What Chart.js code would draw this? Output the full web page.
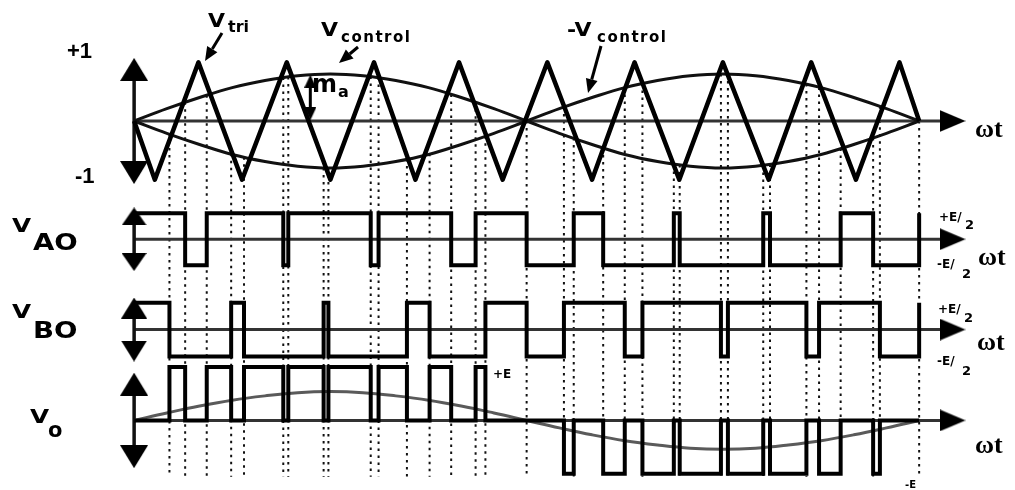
<!DOCTYPE html>
<html>
<head>
<meta charset="utf-8">
<title>Bipolar sinusoidal PWM</title>
<script src="https://cdn.jsdelivr.net/npm/chart.js@4.4.1/dist/chart.umd.min.js"></script>
<style>
  html, body { margin: 0; padding: 0; background: #fff; }
  #wrap { width: 1015px; height: 490px; }
</style>
</head>
<body>
<div id="wrap"><canvas id="pwm" width="1015" height="490"></canvas></div>
<script>
// All angles are in degrees of wt, one period of the control wave = 0..360

// control waves (top panel, per unit of the triangle peak)
const sineAngles = [0, 15, 30, 45, 60, 75, 90, 105, 120, 135, 150, 165, 180,
  195, 210, 225, 240, 255, 270, 285, 300, 315, 330, 345, 360];
const controlWave = [0, 0.21, 0.40, 0.57, 0.69, 0.77, 0.80, 0.77, 0.69, 0.57, 0.40, 0.21, 0,
  -0.21, -0.40, -0.57, -0.69, -0.77, -0.80, -0.77, -0.69, -0.57, -0.40, -0.21, 0];
const negControlWave = [0, -0.21, -0.40, -0.57, -0.69, -0.77, -0.80, -0.77, -0.69, -0.57, -0.40, -0.21, 0,
  0.21, 0.40, 0.57, 0.69, 0.77, 0.80, 0.77, 0.69, 0.57, 0.40, 0.21, 0];
// fundamental drawn inside the V_o panel (per unit of E)
const outputFundamental = [0, 0.14, 0.27, 0.38, 0.46, 0.52, 0.54, 0.52, 0.46, 0.38, 0.27, 0.14, 0,
  -0.14, -0.27, -0.38, -0.46, -0.52, -0.54, -0.52, -0.46, -0.38, -0.27, -0.14, 0];

// triangle carrier vertices
const triAngles = [0, 9.5, 29.5, 49.5, 70, 90, 110, 129, 149, 169, 189.5, 210, 229.5, 250, 270, 291, 310.5, 331, 351, 360];
const triValues = [0, -1, 1, -1, 1, -1, 1, -1, 1, -1, 1, -1, 1, -1, 1, -1, 1, -1, 1, 0];

// leg A: switching angle and level after it (+1 = +E/2, -1 = -E/2)
const vaoSwitch = [0, 23.4, 33.3, 68.4, 70.7, 108.5, 112.1, 145.4, 156.6, 180,
  201.6, 215.1, 247.5, 250.2, 288.5, 291.6, 324, 338.9, 360];
const vaoLevel = [1, -1, 1, -1, 1, -1, 1, -1, 1, -1, 1, -1, 1, -1, 1, -1, 1, -1, 1];

// leg B
const vboSwitch = [0, 16.2, 44.5, 50.4, 86.9, 89.1, 125.1, 135.5, 161.1, 180,
  197.1, 225, 233.1, 269.1, 272.3, 308.3, 314.1, 342, 360];
const vboLevel = [1, -1, 1, -1, 1, -1, 1, -1, 1, -1, 1, -1, 1, -1, 1, -1, 1, -1, 1];

// output V_o (+1 = +E, -1 = -E)
const voSwitch = [0, 16.2, 23.4, 33.3, 44.5, 50.4, 68.4, 70.7, 86.9, 89.1, 108.5, 112.1, 125.1,
  135.5, 145.4, 156.6, 161.1, 197.1, 201.6, 215.1, 225, 233.1, 247.5, 250.2, 269.1, 272.3,
  288.5, 291.6, 308.3, 314.1, 324, 338.9, 342, 360];
const voLevel = [0, 1, 0, 1, 0, 1, 0, 1, 0, 1, 0, 1, 0, 1, 0, 1, 0,
  -1, 0, -1, 0, -1, 0, -1, 0, -1, 0, -1, 0, -1, 0, -1, 0, 0];

// dotted projection lines: angle and where they leave the top panel
const dotAngles = [16.2, 23.4, 33.3, 44.5, 50.4, 68.4, 70.7, 86.9, 89.1, 108.5, 112.1, 125.1,
  135.5, 145.4, 156.6, 161.1, 180, 197.1, 201.6, 215.1, 225, 233.1, 247.5, 250.2, 269.1, 272.3,
  288.5, 291.6, 308.3, 314.1, 324, 338.9, 342, 360];
const dotTops = [-0.22, 0.32, 0.44, -0.56, -0.62, 0.74, 0.75, -0.80, -0.80, 0.76, 0.74, -0.65,
  -0.56, 0.45, 0.32, -0.26, 0, 0.24, -0.29, -0.46, 0.57, 0.64, -0.74, -0.75, 0.80, 0.80,
  -0.76, -0.74, 0.63, 0.57, -0.47, -0.29, 0.25, 0];

// modulation index marker
const maAngle = 80.8;
const maSpan = [0.12, 0.68];

// ---- layout ----
const W = 1015, H = 490;
const X0 = 127, X360 = 927;
const degPx = (X360 - X0) / 360;
const AXIS_END = 375.3;

// y scale for a panel: +1 at pxTop, -1 at pxBot
function band(pxTop, pxBot) {
  const per = (pxBot - pxTop) / 2;
  const max = 1 + pxTop / per;
  return { type: 'linear', display: false, min: max - H / per, max: max };
}
const scTri = band(55, 177);
const scAO = band(212, 266);
const scBO = band(305, 361);
const scO = band(372, 483);
const DOT_END = scTri.max - 486 * (scTri.max - scTri.min) / H;

function pts(xs, ys) {
  return xs.map((x, i) => ({ x: x, y: ys[i] }));
}

function makeHead(w, h) {
  const c = document.createElement('canvas');
  c.width = w; c.height = h;
  const g = c.getContext('2d');
  g.fillStyle = '#000';
  g.beginPath();
  g.moveTo(w / 2, 0);
  g.lineTo(w, h);
  g.lineTo(0, h);
  g.closePath();
  g.fill();
  return c;
}
const headH = makeHead(22, 26);
const headTop = makeHead(28, 23);
const headAO = makeHead(25, 18);
const headBO = makeHead(26, 21);
const headO = makeHead(28, 23);
const headMa = makeHead(12, 13);

const dotPts = [];
dotAngles.forEach((a, i) => {
  dotPts.push({ x: a, y: dotTops[i] }, { x: a, y: DOT_END }, { x: a, y: null });
});

function axisLine(yID) {
  return {
    data: [{ x: 0, y: 0 }, { x: AXIS_END, y: 0 }],
    yAxisID: yID,
    borderColor: '#333',
    borderWidth: 3,
    pointRadius: [0, 6],
    pointStyle: headH,
    pointRotation: 90,
    order: 5
  };
}
function vArrow(yID, a, img) {
  return {
    data: [{ x: 0, y: -a }, { x: 0, y: a }],
    yAxisID: yID,
    borderColor: '#111',
    borderWidth: 3.5,
    pointRadius: 6,
    pointStyle: img,
    pointRotation: [180, 0],
    order: 4
  };
}
function square(xs, ys, yID) {
  return {
    data: pts(xs, ys),
    yAxisID: yID,
    stepped: true,
    borderColor: '#000',
    borderWidth: 4,
    borderJoinStyle: 'miter',
    pointRadius: 0,
    order: 1
  };
}

// ---- text and pointer arrows ----
const SANS = '"DejaVu Sans", sans-serif';
const labels = [
  { t: '+1', x: 67, y: 58, f: 'bold 22px "Liberation Sans"' },
  { t: '-1', x: 75, y: 183, f: 'bold 22px "Liberation Sans"' },
  { t: 'V', x: 208, y: 27, f: 'bold 20px ' + SANS, sx: 1.1 },
  { t: 'tri', x: 228, y: 32, f: 'bold 16px ' + SANS },
  { t: 'V', x: 321, y: 36, f: 'bold 20px ' + SANS, sx: 1.1 },
  { t: 'control', x: 341, y: 42, f: 'bold 15px ' + SANS, ls: 1.5 },
  { t: '-V', x: 567, y: 36, f: 'bold 20px ' + SANS, sx: 1.1 },
  { t: 'control', x: 597, y: 42, f: 'bold 15px ' + SANS, ls: 1.5 },
  { t: 'm', x: 312, y: 92, f: 'bold 24px ' + SANS },
  { t: 'a', x: 338, y: 97, f: 'bold 16px ' + SANS },
  { t: 'V', x: 12, y: 232, f: 'bold 19px ' + SANS, sx: 1.3 },
  { t: 'AO', x: 33, y: 250, f: 'bold 23px ' + SANS, sx: 1.2 },
  { t: 'V', x: 12, y: 318, f: 'bold 19px ' + SANS, sx: 1.3 },
  { t: 'BO', x: 33, y: 338, f: 'bold 23px ' + SANS, sx: 1.2 },
  { t: 'V', x: 30, y: 423, f: 'bold 19px ' + SANS, sx: 1.3 },
  { t: 'o', x: 48, y: 437, f: 'bold 21px ' + SANS },
  { t: '+E/', x: 939, y: 221, f: 'bold 12px ' + SANS },
  { t: '2', x: 965, y: 229, f: 'bold 13px ' + SANS },
  { t: '-E/', x: 937, y: 268, f: 'bold 12px ' + SANS },
  { t: '2', x: 962, y: 278, f: 'bold 13px ' + SANS },
  { t: '+E/', x: 938, y: 313, f: 'bold 12px ' + SANS },
  { t: '2', x: 964, y: 322, f: 'bold 13px ' + SANS },
  { t: '-E/', x: 937, y: 365, f: 'bold 12px ' + SANS },
  { t: '2', x: 962, y: 375, f: 'bold 13px ' + SANS },
  { t: '+E', x: 493, y: 378, f: 'bold 12px ' + SANS },
  { t: '-E', x: 905, y: 488, f: 'bold 10px ' + SANS },
  { t: 'ωt', x: 975, y: 137, f: 'bold 26px "Liberation Serif"' },
  { t: 'ωt', x: 978, y: 265, f: 'bold 26px "Liberation Serif"' },
  { t: 'ωt', x: 977, y: 350, f: 'bold 26px "Liberation Serif"' },
  { t: 'ωt', x: 975, y: 453, f: 'bold 26px "Liberation Serif"' }
];
const pointers = [
  [222, 33, 205, 61],
  [358, 47, 339, 63],
  [601, 46, 588, 93]
];

const textPlugin = {
  id: 'pwmText',
  afterDraw(chart) {
    const ctx = chart.ctx;
    ctx.save();
    ctx.fillStyle = '#000';
    ctx.textBaseline = 'alphabetic';
    labels.forEach(l => {
      ctx.save();
      ctx.translate(l.x, l.y);
      ctx.scale(l.sx || 1, 1);
      ctx.font = l.f;
      ctx.letterSpacing = (l.ls || 0) + 'px';
      ctx.fillText(l.t, 0, 0);
      ctx.restore();
    });
    ctx.strokeStyle = '#000';
    ctx.lineWidth = 3;
    pointers.forEach(p => {
      const [x1, y1, x2, y2] = p;
      const ang = Math.atan2(y2 - y1, x2 - x1);
      const len = 14, half = 6;
      const bx = x2 - Math.cos(ang) * len, by = y2 - Math.sin(ang) * len;
      ctx.beginPath();
      ctx.moveTo(x1, y1);
      ctx.lineTo(bx, by);
      ctx.stroke();
      ctx.beginPath();
      ctx.moveTo(x2, y2);
      ctx.lineTo(bx - Math.sin(ang) * half, by + Math.cos(ang) * half);
      ctx.lineTo(bx + Math.sin(ang) * half, by - Math.cos(ang) * half);
      ctx.closePath();
      ctx.fill();
    });
    ctx.restore();
  }
};

new Chart(document.getElementById('pwm'), {
  type: 'line',
  data: {
    datasets: [
      {
        data: dotPts,
        yAxisID: 'yTri',
        borderColor: '#111',
        borderWidth: 2,
        borderDash: [2.5, 4.5],
        pointRadius: 0,
        spanGaps: false,
        order: 10
      },
      axisLine('yTri'),
      axisLine('yAO'),
      axisLine('yBO'),
      axisLine('yO'),
      vArrow('yTri', 0.88, headTop),
      vArrow('yAO', 0.88, headAO),
      vArrow('yBO', 0.8, headBO),
      vArrow('yO', 0.68, headO),
      {
        data: pts(sineAngles, outputFundamental),
        yAxisID: 'yO',
        borderColor: '#5a5a5a',
        borderWidth: 3,
        tension: 0.4,
        pointRadius: 0,
        order: 3
      },
      {
        data: pts(sineAngles, controlWave),
        yAxisID: 'yTri',
        borderColor: '#111',
        borderWidth: 3,
        tension: 0.4,
        pointRadius: 0,
        order: 2
      },
      {
        data: pts(sineAngles, negControlWave),
        yAxisID: 'yTri',
        borderColor: '#111',
        borderWidth: 3,
        tension: 0.4,
        pointRadius: 0,
        order: 2
      },
      {
        data: pts(triAngles, triValues),
        yAxisID: 'yTri',
        borderColor: '#000',
        borderWidth: 4.5,
        borderJoinStyle: 'round',
        pointRadius: 0,
        order: 1
      },
      square(vaoSwitch, vaoLevel, 'yAO'),
      square(vboSwitch, vboLevel, 'yBO'),
      square(voSwitch, voLevel, 'yO'),
      {
        data: [{ x: maAngle, y: maSpan[0] }, { x: maAngle, y: maSpan[1] }],
        yAxisID: 'yTri',
        borderColor: '#000',
        borderWidth: 3,
        pointRadius: 5,
        pointStyle: headMa,
        pointRotation: [180, 0],
        order: 0
      }
    ]
  },
  options: {
    responsive: false,
    animation: false,
    devicePixelRatio: 1,
    events: [],
    layout: { padding: 0 },
    plugins: { legend: { display: false }, tooltip: { enabled: false } },
    elements: { line: { fill: false, borderCapStyle: 'butt' } },
    scales: {
      x: { type: 'linear', display: false, min: -X0 / degPx, max: (W - X0) / degPx },
      yTri: scTri,
      yAO: scAO,
      yBO: scBO,
      yO: scO
    }
  },
  plugins: [textPlugin]
});
</script>
</body>
</html>
